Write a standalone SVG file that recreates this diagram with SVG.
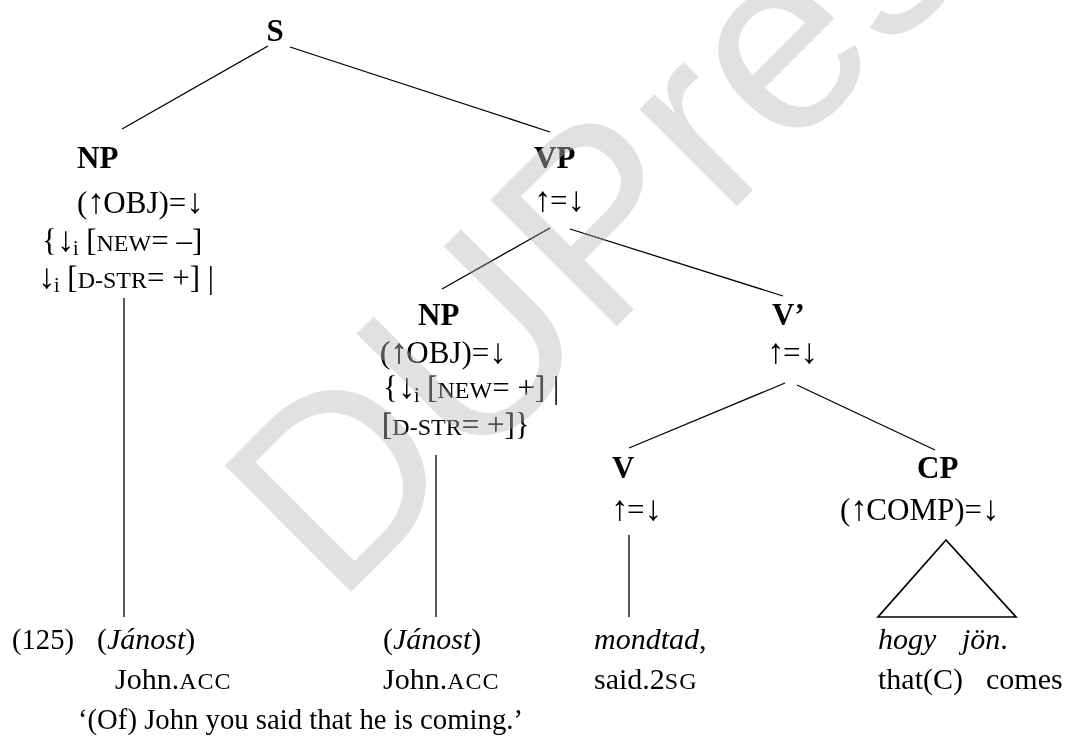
<svg xmlns="http://www.w3.org/2000/svg" width="1069" height="737" viewBox="0 0 1069 737">
  <style>
    .t { font-family: "Liberation Serif", "Times New Roman", serif; font-size: 31px; fill: #000; }
    .w { font-family: "Liberation Serif", "Times New Roman", serif; font-size: 30px; fill: #000; }
    .b { font-weight: bold; }
    .sc { font-size: 24px; }
    .wsc { font-size: 24px; letter-spacing: 1px; }
    .sub { font-size: 20px; }
    .ar { font-size: 35px; letter-spacing: -1.5px; }
    .i { font-style: italic; }
    .edge { stroke: #000; stroke-width: 1.3; fill: none; }
    .tri { stroke: #000; stroke-width: 1.7; fill: none; stroke-linejoin: miter; }
    .mark { font-family: "Liberation Sans", Arial, sans-serif; font-size: 260px; }
  </style>

  <rect width="1069" height="737" fill="#fff"/>

  <!-- publisher mark, behind the tree -->
  <text class="mark" fill="#e1e1e1" transform="translate(336,607) rotate(-45)">DUPress</text>

  <!-- connectors -->
  <g id="connectors">
    <line class="edge" x1="268" y1="46" x2="122" y2="129"/>
    <line class="edge" x1="290" y1="47" x2="550" y2="132"/>
    <line class="edge" x1="550" y1="228" x2="442" y2="289"/>
    <line class="edge" x1="570" y1="229" x2="783" y2="296"/>
    <line class="edge" x1="785" y1="383" x2="629" y2="448"/>
    <line class="edge" x1="797" y1="385" x2="935" y2="450"/>
    <line class="edge" x1="124" y1="298" x2="124" y2="617"/>
    <line class="edge" x1="436" y1="455" x2="436" y2="617"/>
    <line class="edge" x1="629" y1="535" x2="629" y2="617"/>
    <polygon class="tri" points="946,540 878,617 1016,617"/>
  </g>

  <g id="n-S">
    <text class="t b" x="275" y="41" text-anchor="middle">S</text>
  </g>

  <g id="n-NP1">
    <text class="t b" x="77" y="168">NP</text>
    <text class="t" x="77" y="213">(<tspan class="ar">↑</tspan>OBJ)=<tspan class="ar">↓</tspan></text>
    <text class="t" x="42" y="251">{<tspan class="ar">↓</tspan><tspan class="sub" dy="4">i</tspan><tspan dy="-4"> [</tspan><tspan class="sc">NEW</tspan>= –]</text>
    <text class="t" x="38" y="288"><tspan class="ar">↓</tspan><tspan class="sub" dy="4">i</tspan><tspan dy="-4"> [</tspan><tspan class="sc">D-STR</tspan>= +] |</text>
  </g>

  <g id="n-VP">
    <text class="t b" x="534" y="168">VP</text>
    <text class="t" x="534" y="211"><tspan class="ar">↑</tspan>=<tspan class="ar">↓</tspan></text>
  </g>

  <g id="n-NP2">
    <text class="t b" x="418" y="325">NP</text>
    <text class="t" x="380" y="363">(<tspan class="ar">↑</tspan>OBJ)=<tspan class="ar">↓</tspan></text>
    <text class="t" x="383" y="398">{<tspan class="ar">↓</tspan><tspan class="sub" dy="4">i</tspan><tspan dy="-4"> [</tspan><tspan class="sc">NEW</tspan>= +] |</text>
    <text class="t" x="382" y="435">[<tspan class="sc">D-STR</tspan>= +]}</text>
  </g>

  <g id="n-Vbar">
    <text class="t b" x="772" y="325">V’</text>
    <text class="t" x="767" y="363"><tspan class="ar">↑</tspan>=<tspan class="ar">↓</tspan></text>
  </g>

  <g id="n-V">
    <text class="t b" x="612" y="478">V</text>
    <text class="t" x="611" y="520"><tspan class="ar">↑</tspan>=<tspan class="ar">↓</tspan></text>
  </g>

  <g id="n-CP">
    <text class="t b" x="917" y="478">CP</text>
    <text class="t" x="840" y="520">(<tspan class="ar">↑</tspan>COMP)=<tspan class="ar">↓</tspan></text>
  </g>

  <g id="words">
    <text class="w" x="12" y="649" textLength="62" lengthAdjust="spacingAndGlyphs">(125)</text>
    <text class="w" x="97" y="649">(<tspan class="i">Jánost</tspan>)</text>
    <text class="w" x="383" y="649">(<tspan class="i">Jánost</tspan>)</text>
    <text class="w" x="594" y="649"><tspan class="i">mondtad</tspan>,</text>
    <text class="w" x="878" y="649"><tspan class="i">hogy</tspan></text>
    <text class="w" x="962" y="649"><tspan class="i">jön</tspan>.</text>
  </g>

  <g id="glosses">
    <text class="w" x="115" y="689">John.<tspan class="wsc">ACC</tspan></text>
    <text class="w" x="383" y="689">John.<tspan class="wsc">ACC</tspan></text>
    <text class="w" x="594" y="689">said.2<tspan class="wsc">SG</tspan></text>
    <text class="w" x="878" y="689">that(C)</text>
    <text class="w" x="986" y="689">comes</text>
    <text class="w" x="78" y="729" textLength="445" lengthAdjust="spacingAndGlyphs">‘(Of) John you said that he is coming.’</text>
  </g>

  <!-- greys only the ink lying under the mark -->
  <text class="mark" fill="#555" style="mix-blend-mode: lighten" transform="translate(336,607) rotate(-45)">DUPress</text>
</svg>
